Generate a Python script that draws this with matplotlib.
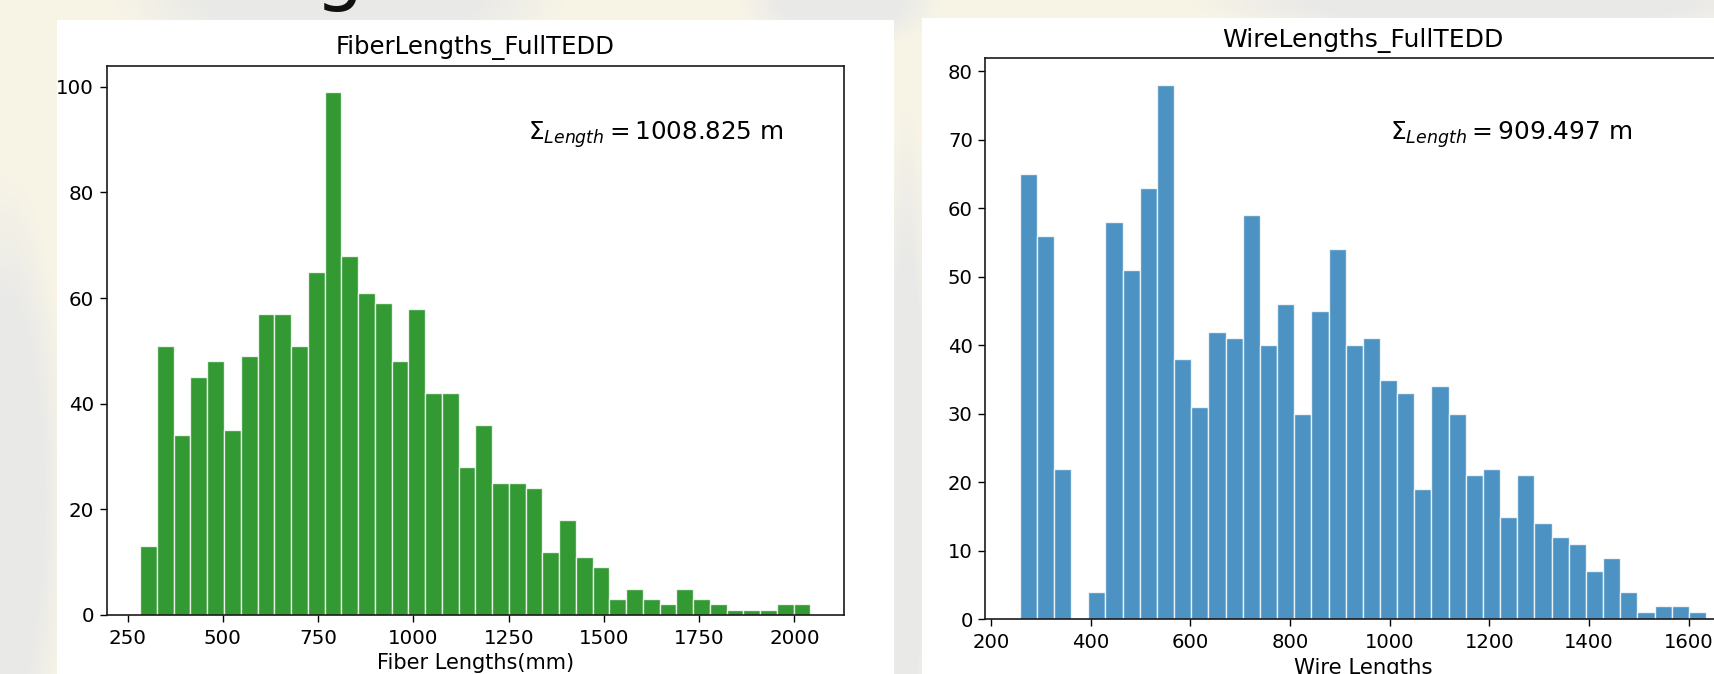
import numpy as np
import matplotlib
matplotlib.use("Agg")
import matplotlib.pyplot as plt
from matplotlib.patches import Rectangle

# ========== Data ==========
# fiber length histogram (40 bins)
FIBER_RANGE = (283, 2042)
FIBER_COUNTS = [13, 51, 34, 45, 48, 35, 49, 57, 57, 51,
                65, 99, 68, 61, 59, 48, 58, 42, 42, 28,
                36, 25, 25, 24, 12, 18, 11, 9, 3, 5,
                3, 2, 5, 3, 2, 1, 1, 1, 2, 2]
FIBER_XTICKS = [250, 500, 750, 1000, 1250, 1500, 1750, 2000]
FIBER_YTICKS = [0, 20, 40, 60, 80, 100]
FIBER_TOTAL = "1008.825"

# wire length histogram (40 bins)
WIRE_RANGE = (257, 1635)
WIRE_COUNTS = [65, 56, 22, 0, 4, 58, 51, 63, 78, 38,
               31, 42, 41, 59, 40, 46, 30, 45, 54, 40,
               41, 35, 33, 19, 34, 30, 21, 22, 15, 21,
               14, 12, 11, 7, 9, 4, 1, 2, 2, 1]
WIRE_XTICKS = [200, 400, 600, 800, 1000, 1200, 1400, 1600]
WIRE_YTICKS = [0, 10, 20, 30, 40, 50, 60, 70, 80]
WIRE_TOTAL = "909.497"

W, H = 1714, 674
CREAM = np.array([247, 244, 230]) / 255
GREY = np.array([233, 233, 232]) / 255

# soft grey shapes of the slide template: (cx, cy, rx, ry)
BLOBS = [(340, 0, 180, 45), (840, 0, 80, 40), (1500, 0, 250, 30),
         (5, 500, 50, 260), (906, 480, 22, 300)]


def px(x0, y0, x1, y1):
    """pixel box (top-left origin) -> figure fraction [l, b, w, h]"""
    return [x0 / W, 1 - y1 / H, (x1 - x0) / W, (y1 - y0) / H]


def slide_background():
    yy, xx = np.mgrid[0:H, 0:W]
    weight = np.zeros((H, W))
    for cx, cy, rx, ry in BLOBS:
        r = np.sqrt(((xx - cx) / rx) ** 2 + ((yy - cy) / ry) ** 2)
        weight = np.maximum(weight, np.clip((1.25 - r) / 0.5, 0, 1))
    return CREAM * (1 - weight[..., None]) + GREY * weight[..., None]


def draw_hist(ax, rng, counts, color, xticks, yticks, tick_fs):
    counts = np.asarray(counts, dtype=float)
    edges = np.linspace(rng[0], rng[1], len(counts) + 1)
    centers = 0.5 * (edges[:-1] + edges[1:])
    ax.hist(centers, bins=edges, weights=counts, color=color, alpha=0.8,
            edgecolor="white", linewidth=1.0)
    ax.set_xticks(xticks)
    ax.set_yticks(yticks)
    ax.tick_params(labelsize=tick_fs, length=5, width=1.0, pad=4)
    ax.tick_params(axis="x", pad=5)
    for sp in ax.spines.values():
        sp.set_linewidth(1.2)
        sp.set_color("#1a1a1a")


fig = plt.figure(figsize=(W / 100, H / 100), dpi=100)

# slide background + white panels holding the two plots
bg = fig.add_axes([0, 0, 1, 1], zorder=-5)
bg.imshow(slide_background(), extent=(0, W, H, 0), aspect="auto")
bg.set_xlim(0, W)
bg.set_ylim(H, 0)
bg.axis("off")
bg.add_patch(Rectangle((57, 20), 837, H - 20, color="white", lw=0))
bg.add_patch(Rectangle((922, 18), W - 922, H - 18, color="white", lw=0))

# slide heading, mostly above the visible area
fig.text(176 / W, 1 + 4 / H, "Lengths", fontsize=56, color="#111111",
         va="baseline", ha="left")

# ---- fiber lengths ----
ax1 = fig.add_axes(px(106.7, 66, 844, 615))
draw_hist(ax1, FIBER_RANGE, FIBER_COUNTS, "g", FIBER_XTICKS, FIBER_YTICKS, 14.3)
ax1.set_title("FiberLengths_FullTEDD", fontsize=17.6, pad=8.5)
ax1.set_xlabel("Fiber Lengths(mm)", fontsize=15, labelpad=4)
ax1.text(1300, 90, r"$\Sigma_{Length} = $" + f"{FIBER_TOTAL} m", fontsize=17.7)

# ---- wire lengths ----
ax2 = fig.add_axes(px(985.3, 58.3, 1740.4, 619.3))
draw_hist(ax2, WIRE_RANGE, WIRE_COUNTS, "tab:blue", WIRE_XTICKS, WIRE_YTICKS, 14.1)
ax2.set_title("WireLengths_FullTEDD", fontsize=18, pad=8)
ax2.set_xlabel("Wire Lengths", fontsize=15.3, labelpad=4)
ax2.text(1000, 70, r"$\Sigma_{Length} = $" + f"{WIRE_TOTAL} m", fontsize=17.9)

fig.savefig("out.png", dpi=100)
